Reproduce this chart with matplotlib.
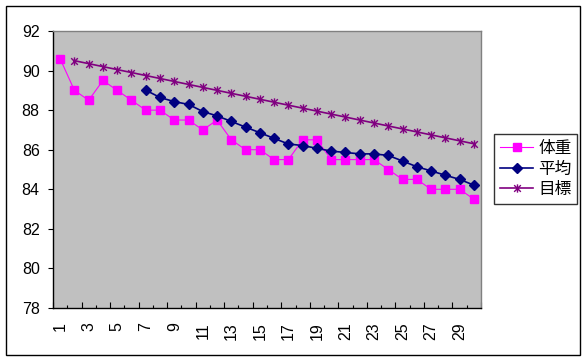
import matplotlib
matplotlib.use("Agg")
import matplotlib.pyplot as plt
from matplotlib.path import Path
from matplotlib.patches import Rectangle
from matplotlib.ticker import FixedLocator

days = list(range(1, 31))
weight = [90.6, 89.0, 88.5, 89.5, 89.0, 88.5, 88.0, 88.0, 87.5, 87.5,
          87.0, 87.5, 86.5, 86.0, 86.0, 85.5, 85.5, 86.5, 86.5, 85.5,
          85.5, 85.5, 85.5, 85.0, 84.5, 84.5, 84.0, 84.0, 84.0, 83.5]
avg_days = list(range(7, 31))
average = [89.01, 88.64, 88.43, 88.29, 87.93, 87.71, 87.43, 87.14, 86.86, 86.57,
           86.29, 86.21, 86.07, 85.93, 85.86, 85.79, 85.79, 85.71, 85.43, 85.14,
           84.93, 84.71, 84.50, 84.21]
target_days = list(range(2, 31))
target = [90.50, 90.35, 90.20, 90.05, 89.90, 89.75, 89.60, 89.45, 89.30, 89.15,
          89.00, 88.85, 88.70, 88.55, 88.40, 88.25, 88.10, 87.95, 87.80, 87.65,
          87.50, 87.35, 87.20, 87.05, 86.90, 86.75, 86.60, 86.45, 86.30]
labels = ["体重", "平均", "目標"]
yticks = [78, 80, 82, 84, 86, 88, 90, 92]
xlabel_pos = list(range(1, 31, 2))

W, H = 588, 362
fig = plt.figure(figsize=(W / 100, H / 100), dpi=100)
fig.patch.set_facecolor("white")
fig.patches.append(Rectangle((6 / W, 1 - 355 / H), 574 / W, 349 / H,
                             transform=fig.transFigure, fill=False,
                             edgecolor="black", linewidth=1.0))

ax = fig.add_axes([53 / W, 1 - 308 / H, 428 / W, 277 / H])
ax.set_facecolor("#C0C0C0")

star = Path([(-1, -1), (1, 1), (-1, 1), (1, -1), (0, -1.25), (0, 1.25)],
            [Path.MOVETO, Path.LINETO, Path.MOVETO, Path.LINETO, Path.MOVETO, Path.LINETO])

ax.plot(days, weight, color="#FF00FF", lw=0.8, marker="s", ms=5.2,
        mfc="#FF00FF", mec="#FF00FF", label=labels[0], zorder=3)
ax.plot(avg_days, average, color="#000080", lw=1.2, marker="D", ms=4.6,
        mfc="#000080", mec="#000080", label=labels[1], zorder=4)
ax.plot(target_days, target, color="#800080", lw=1.2, marker=star, ms=6,
        mfc="none", mec="#800080", mew=1.0, label=labels[2], zorder=2)

ax.set_xlim(0.5, 30.5)
ax.set_ylim(78, 92)
ax.set_yticks(yticks)
ax.set_yticklabels([str(v) for v in yticks])

# tick marks on category boundaries
ax.xaxis.set_major_locator(FixedLocator([0.5 + 2 * k for k in range(16)]))
ax.xaxis.set_minor_locator(FixedLocator([1.5 + 2 * k for k in range(15)]))
ax.tick_params(axis="x", which="major", direction="in", length=4, width=0.8,
               labelbottom=False)
ax.tick_params(axis="x", which="minor", direction="in", length=2.2, width=0.8)
ax.tick_params(axis="y", direction="out", length=3.6, width=0.8, pad=6,
               labelsize=11.5)

sec = ax.secondary_xaxis("bottom")
sec.set_xticks(xlabel_pos)
sec.set_xticklabels([str(v) for v in xlabel_pos], rotation=90)
sec.tick_params(length=0, pad=10, labelsize=11.5)
sec.spines["bottom"].set_visible(False)

for s in ["top", "right"]:
    ax.spines[s].set_color("#808080")
    ax.spines[s].set_linewidth(1.0)
for s in ["left", "bottom"]:
    ax.spines[s].set_color("black")
    ax.spines[s].set_linewidth(1.0)

for lab in ax.get_yticklabels() + sec.get_xticklabels():
    lab.set_fontfamily(["Liberation Sans", "DejaVu Sans"])

leg = fig.legend(loc="center left", bbox_to_anchor=(494 / W, 1 - 169 / H),
                 frameon=True, fancybox=False, shadow=False,
                 prop={"family": ["Noto Sans CJK JP", "DejaVu Sans"], "size": 12},
                 handlelength=2.0, handletextpad=0.3, labelspacing=0.2,
                 borderpad=0.35, borderaxespad=0, numpoints=1)
leg.get_frame().set_edgecolor("black")
leg.get_frame().set_linewidth(1.0)

fig.savefig("out.png", dpi=100)
